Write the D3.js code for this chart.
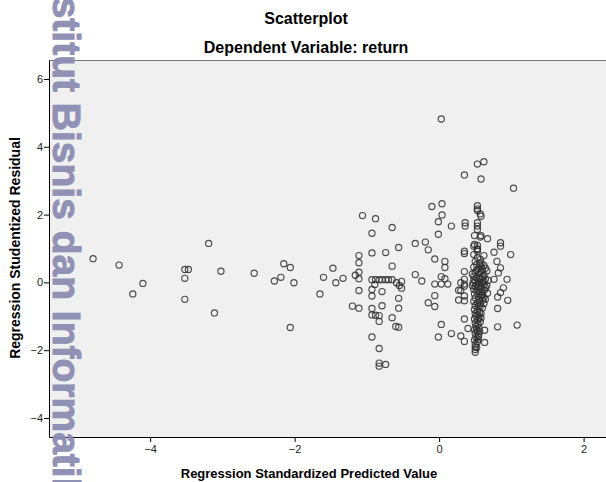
<!DOCTYPE html>
<html>
<head>
<meta charset="utf-8">
<script src="https://cdn.jsdelivr.net/npm/d3@7"></script>
<style>
  body { margin: 0; background: #fff; }
  text { font-family: "Liberation Sans", Arial, sans-serif; }
</style>
</head>
<body>
<svg id="chart"></svg>
<script>
const width = 606;
const height = 482;

// predicted value (x) and studentized residual (y)
const predicted = [
  -4.79, -4.43, -4.10, -4.24, -3.52, -3.47, -3.52, -3.52, -3.19, -3.02, -3.11,
  -2.56, -2.28, -2.19, -2.15, -2.06, -2.01, -2.06, -1.65, -1.60, -1.47, -1.43,
  -1.06, -0.88, -0.65, -0.93, -0.10, 0.04, 0.04, -0.01, 0.17, -0.01, -0.33, -0.19,
  -0.15, -0.56, -0.74, -0.93, -1.11, -1.11, -0.65, -0.06, 0.08, 0.08, -1.11, -1.16,
  -1.11, -1.33, -0.33, -0.24,
  -0.93, -0.88, -0.83, -0.79, -0.74, -0.70, -0.65, -0.59, -0.52, -0.52, -0.55,
  -0.89, -0.93, -0.79, -0.93, -1.11, -0.56, -1.20, -1.11, -0.93, -0.79, -0.56,
  -0.93, -0.88, -0.83, -0.83, -0.65, -0.60, -0.56,
  -0.06, 0.03, 0.08, 0.03, 0.12, -0.06, -0.15, -0.06, 0.03, 0.27, 0.27,
  -0.93, -0.83, -0.83, -0.83, -0.74, -0.01, 0.17, 0.30, 0.35, 0.35, 0.40, 0.35,
  0.30, 0.35, 0.35, 0.30, 0.35, 0.35,
  0.03, 0.62, 0.53, 0.35, 0.58, 1.03,
  0.53, 0.53, 0.53, 0.57, 0.58, 0.36, 0.36, 0.53, 0.53, 0.53, 0.49, 0.58, 0.57,
  0.67, 0.49, 0.53, 0.53, 0.35, 0.35, 0.85, 0.85, 0.76, 0.99, 0.62, 0.80, 0.58,
  0.85, 0.82, 0.94, 0.76, 0.35, 0.48, 0.53, 0.53, 0.48, 0.53, 0.57,
  0.89, 0.85, 0.81, 0.95, 0.81, 0.81, 1.08, 0.63, 0.63, 0.54,
  0.50, 0.56, 0.62, 0.48, 0.54, 0.60, 0.66, 0.50, 0.56, 0.62, 0.48, 0.52, 0.58,
  0.64, 0.68, 0.50, 0.54, 0.60, 0.47, 0.56, 0.62, 0.66, 0.50, 0.54, 0.58, 0.48,
  0.63, 0.52, 0.56, 0.60, 0.67, 0.49, 0.54, 0.58, 0.62, 0.50, 0.55, 0.60, 0.48,
  0.53, 0.57, 0.50, 0.54, 0.60, 0.49, 0.53, 0.56, 0.50, 0.54, 0.51, 0.55, 0.49,
  0.53, 0.57, 0.50, 0.54, 0.51, 0.55, 0.49, 0.53, 0.50, 0.55, 0.51, 0.49, 0.53,
  0.50, 0.50, 0.50, 0.50,
  0.52, 0.58, 0.64, 0.52, 0.58, 0.46, 0.60, 0.56, 0.48, 0.62, 0.52, 0.58, 0.64,
  0.46, 0.60, 0.64, 0.57, 0.62, 0.58, 0.58, 0.52, 0.56, 0.54, 0.52
];
const residual = [
  0.70, 0.51, -0.03, -0.34, 0.38, 0.38, 0.12, -0.50, 1.15, 0.33, -0.90,
  0.27, 0.04, 0.15, 0.55, 0.44, -0.01, -1.33, -0.34, 0.15, 0.42, -0.01,
  1.97, 1.88, 1.62, 1.45, 2.24, 2.32, 1.99, 1.79, 1.66, 1.42, 1.15, 1.19,
  0.96, 1.03, 0.88, 0.87, 0.79, 0.58, 0.48, 0.69, 0.62, 0.44, 0.30, 0.21,
  0.11, 0.12, 0.23, 0.04,
  0.08, 0.08, 0.08, 0.08, 0.08, 0.08, 0.08, -0.01, 0.03, -0.17, -0.09,
  -0.06, -0.21, -0.27, -0.40, -0.24, -0.47, -0.70, -0.76, -0.77, -0.69, -0.76,
  -0.96, -0.97, -0.98, -1.15, -1.04, -1.30, -1.32,
  -0.05, 0.17, 0.11, -0.05, -0.05, -0.39, -0.60, -0.71, -1.24, -0.23, -0.52,
  -1.61, -1.95, -2.38, -2.47, -2.42, -1.61, -1.51, -1.58, -1.74, -1.08, -1.36, -0.54,
  -0.24, -0.05, 0.32, -0.01, -0.11, -0.40,
  4.82, 3.56, 3.49, 3.17, 3.05, 2.78,
  2.26, 2.17, 2.12, 2.02, 1.95, 1.76, 1.66, 1.76, 1.66, 1.56, 1.38, 1.38, 1.34,
  1.29, 1.12, 0.99, 0.92, 0.92, 0.85, 1.17, 1.07, 0.89, 0.82, 0.79, 0.62, 0.58,
  0.43, 0.28, 0.09, 0.09, 0.09, 1.07, 1.09, 0.97, 0.82, 0.73, 0.68,
  -0.16, -0.30, -0.43, -0.53, -0.77, -1.31, -1.26, -1.41, -1.77, -1.61,
  0.62, 0.55, 0.50, 0.45, 0.40, 0.38, 0.34, 0.30, 0.26, 0.22, 0.18, 0.14, 0.12,
  0.10, 0.06, 0.05, 0.02, 0.00, -0.02, -0.05, -0.07, -0.10, -0.12, -0.15, -0.18, -0.20,
  -0.22, -0.25, -0.28, -0.30, -0.32, -0.34, -0.37, -0.40, -0.44, -0.46, -0.50, -0.52, -0.56,
  -0.60, -0.63, -0.68, -0.72, -0.75, -0.80, -0.84, -0.88, -0.92, -0.96, -1.00, -1.04, -1.08,
  -1.12, -1.16, -1.20, -1.24, -1.30, -1.34, -1.40, -1.45, -1.50, -1.55, -1.62, -1.70, -1.75,
  -1.82, -1.90, -1.98, -2.06,
  0.52, 0.46, 0.42, 0.36, 0.32, 0.25, 0.18, 0.10, 0.08, 0.03, -0.08, -0.10, -0.15,
  -0.10, -0.38, -0.50, -0.70, -0.62, -0.92, -1.05, -1.38, -1.45, -1.68, -1.92
];

const xTicks = [-4, -2, 0, 2];
const yTicks = [-4, -2, 0, 2, 4, 6];

const points = predicted.map((p, i) => ({ x: p, y: residual[i] }));

const margin = { top: 60, right: 0, bottom: 45, left: 49 };

const svg = d3.select('#chart')
  .attr('width', width)
  .attr('height', height);

const x = d3.scaleLinear()
  .domain([-5.4, 2.31])
  .range([margin.left, width - margin.right]);

const y = d3.scaleLinear()
  .domain([-4.56, 6.56])
  .range([height - margin.bottom, margin.top]);

// plot background
svg.append('rect')
  .attr('x', margin.left)
  .attr('y', margin.top)
  .attr('width', width - margin.left - margin.right)
  .attr('height', height - margin.top - margin.bottom)
  .attr('fill', '#f0f0f0');

// top border of the plot area
svg.append('line')
  .attr('x1', margin.left).attr('x2', width)
  .attr('y1', margin.top + 0.5).attr('y2', margin.top + 0.5)
  .attr('stroke', '#777');

// points
svg.append('g')
  .selectAll('circle')
  .data(points)
  .enter()
  .append('circle')
  .attr('cx', d => x(d.x))
  .attr('cy', d => y(d.y))
  .attr('r', 3.1)
  .attr('fill', 'none')
  .attr('stroke', '#2e2e2e')
  .attr('stroke-opacity', 0.85)
  .attr('stroke-width', 1.15);

// axes
const xAxis = svg.append('g')
  .attr('transform', `translate(0, ${height - margin.bottom})`)
  .call(d3.axisBottom(x).tickValues(xTicks).tickSize(5).tickSizeOuter(0).tickFormat(d3.format('d')));

const yAxis = svg.append('g')
  .attr('transform', `translate(${margin.left}, 0)`)
  .call(d3.axisLeft(y).tickValues(yTicks).tickSize(5).tickSizeOuter(0).tickFormat(d3.format('d')));

[xAxis, yAxis].forEach(a => {
  a.select('.domain').attr('stroke', '#000');
  a.selectAll('.tick line').attr('stroke', '#000');
  a.selectAll('.tick text')
    .attr('fill', '#222')
    .style('font-size', '11px')
    .style('font-family', '"Liberation Sans", Arial, sans-serif');
});
yAxis.selectAll('.tick text').attr('x', -6);

// watermark (runs off the top and bottom of the picture)
svg.append('text')
  .attr('transform', 'translate(53, -38) rotate(90)')
  .attr('fill', '#8c8cb3')
  .attr('stroke', '#8c8cb3')
  .attr('stroke-width', 1)
  .attr('opacity', 0.95)
  .style('font-size', '39px')
  .style('font-weight', 'bold')
  .text('Institut Bisnis dan Informatika');

// titles
svg.append('text')
  .attr('x', 306).attr('y', 24)
  .attr('text-anchor', 'middle')
  .style('font-size', '16px').style('font-weight', 'bold')
  .text('Scatterplot');

svg.append('text')
  .attr('x', 306).attr('y', 53)
  .attr('text-anchor', 'middle')
  .style('font-size', '16px').style('font-weight', 'bold')
  .text('Dependent Variable: return');

svg.append('text')
  .attr('x', 309).attr('y', 478)
  .attr('text-anchor', 'middle')
  .style('font-size', '13px').style('font-weight', 'bold')
  .text('Regression Standardized Predicted Value');

svg.append('text')
  .attr('transform', 'translate(20, 248) rotate(-90)')
  .attr('text-anchor', 'middle')
  .style('font-size', '14px').style('font-weight', 'bold')
  .text('Regression Studentized Residual');
</script>
</body>
</html>
